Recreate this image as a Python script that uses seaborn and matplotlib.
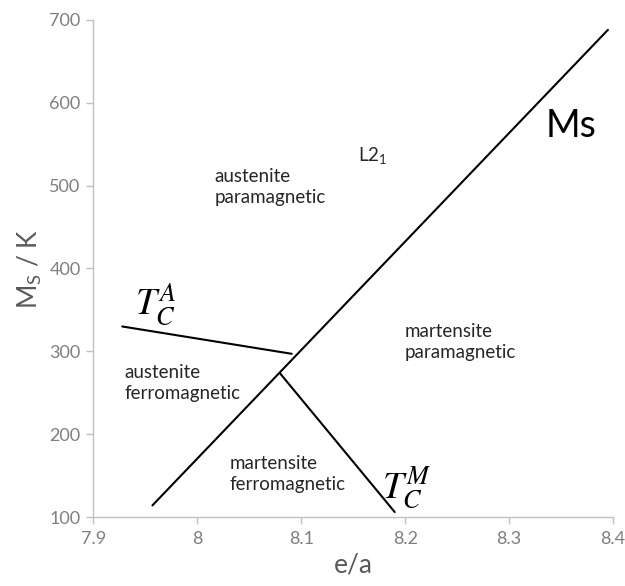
import matplotlib
matplotlib.use("Agg")
import matplotlib.pyplot as plt
import seaborn as sns
import pandas as pd

# Data (boundary lines)
ms_x = [7.957, 8.395]
ms_y = [114, 688]
tca_x = [7.928, 8.091]
tca_y = [330, 297]
tcm_x = [8.080, 8.190]
tcm_y = [273, 106]

x_ticks = [7.9, 8.0, 8.1, 8.2, 8.3, 8.4]
x_ticklabels = ["7.9", "8", "8.1", "8.2", "8.3", "8.4"]
y_ticks = [100, 200, 300, 400, 500, 600, 700]

sns.set_theme(style="white")
plt.rcParams['font.family'] = ['Lato', 'DejaVu Sans']

fig = plt.figure(figsize=(6.25, 5.86), dpi=100)
ax = fig.add_axes([0.149, 0.1177, 0.832, 0.8483])

df = pd.concat([
    pd.DataFrame({"x": ms_x, "y": ms_y, "line": "Ms"}),
    pd.DataFrame({"x": tca_x, "y": tca_y, "line": "TcA"}),
    pd.DataFrame({"x": tcm_x, "y": tcm_y, "line": "TcM"}),
])
sns.lineplot(data=df, x="x", y="y", units="line", estimator=None,
             color="black", linewidth=1.5, ax=ax, legend=False)

ax.set_xlim(7.9, 8.4)
ax.set_ylim(100, 700)
ax.set_xticks(x_ticks)
ax.set_xticklabels(x_ticklabels)
ax.set_yticks(y_ticks)

for s in ["top", "right"]:
    ax.spines[s].set_visible(False)
for s in ["left", "bottom"]:
    ax.spines[s].set_color("#c0c0c0")
    ax.spines[s].set_linewidth(1.0)
ax.tick_params(axis="both", colors="#c0c0c0", labelcolor="#7f7f7f",
               labelsize=13, length=5, width=1.0, direction="out",
               left=True, bottom=True)
ax.tick_params(axis="y", pad=4)
ax.tick_params(axis="x", pad=5)

ax.set_xlabel("e/a", fontsize=19, color="#595959", labelpad=4)
ax.set_ylabel(r"M$_\mathregular{S}$ / K", fontsize=19, color="#595959", labelpad=4)

tc = "#262626"
fs = 13.5
ax.text(8.017, 498, "austenite\nparamagnetic", fontsize=fs, color=tc, va="center", ha="left", linespacing=1.3)
ax.text(8.155, 535, r"L2$_\mathregular{1}$", fontsize=fs, color=tc, va="center", ha="left")
ax.text(8.335, 572, "Ms", fontsize=27, color="black", va="center", ha="left")
ax.text(8.200, 311, "martensite\nparamagnetic", fontsize=fs, color=tc, va="center", ha="left", linespacing=1.3)
ax.text(7.930, 262, "austenite\nferromagnetic", fontsize=fs, color=tc, va="center", ha="left", linespacing=1.3)
ax.text(8.031, 152, "martensite\nferromagnetic", fontsize=fs, color=tc, va="center", ha="left", linespacing=1.3)
ax.text(7.94, 357, r"$T_C^A$", fontsize=27, color="black", va="center", ha="left", math_fontfamily="stix")
ax.text(8.178, 135, r"$T_C^M$", fontsize=27, color="black", va="center", ha="left", math_fontfamily="stix")

fig.savefig("out.png", dpi=100, facecolor="white")
